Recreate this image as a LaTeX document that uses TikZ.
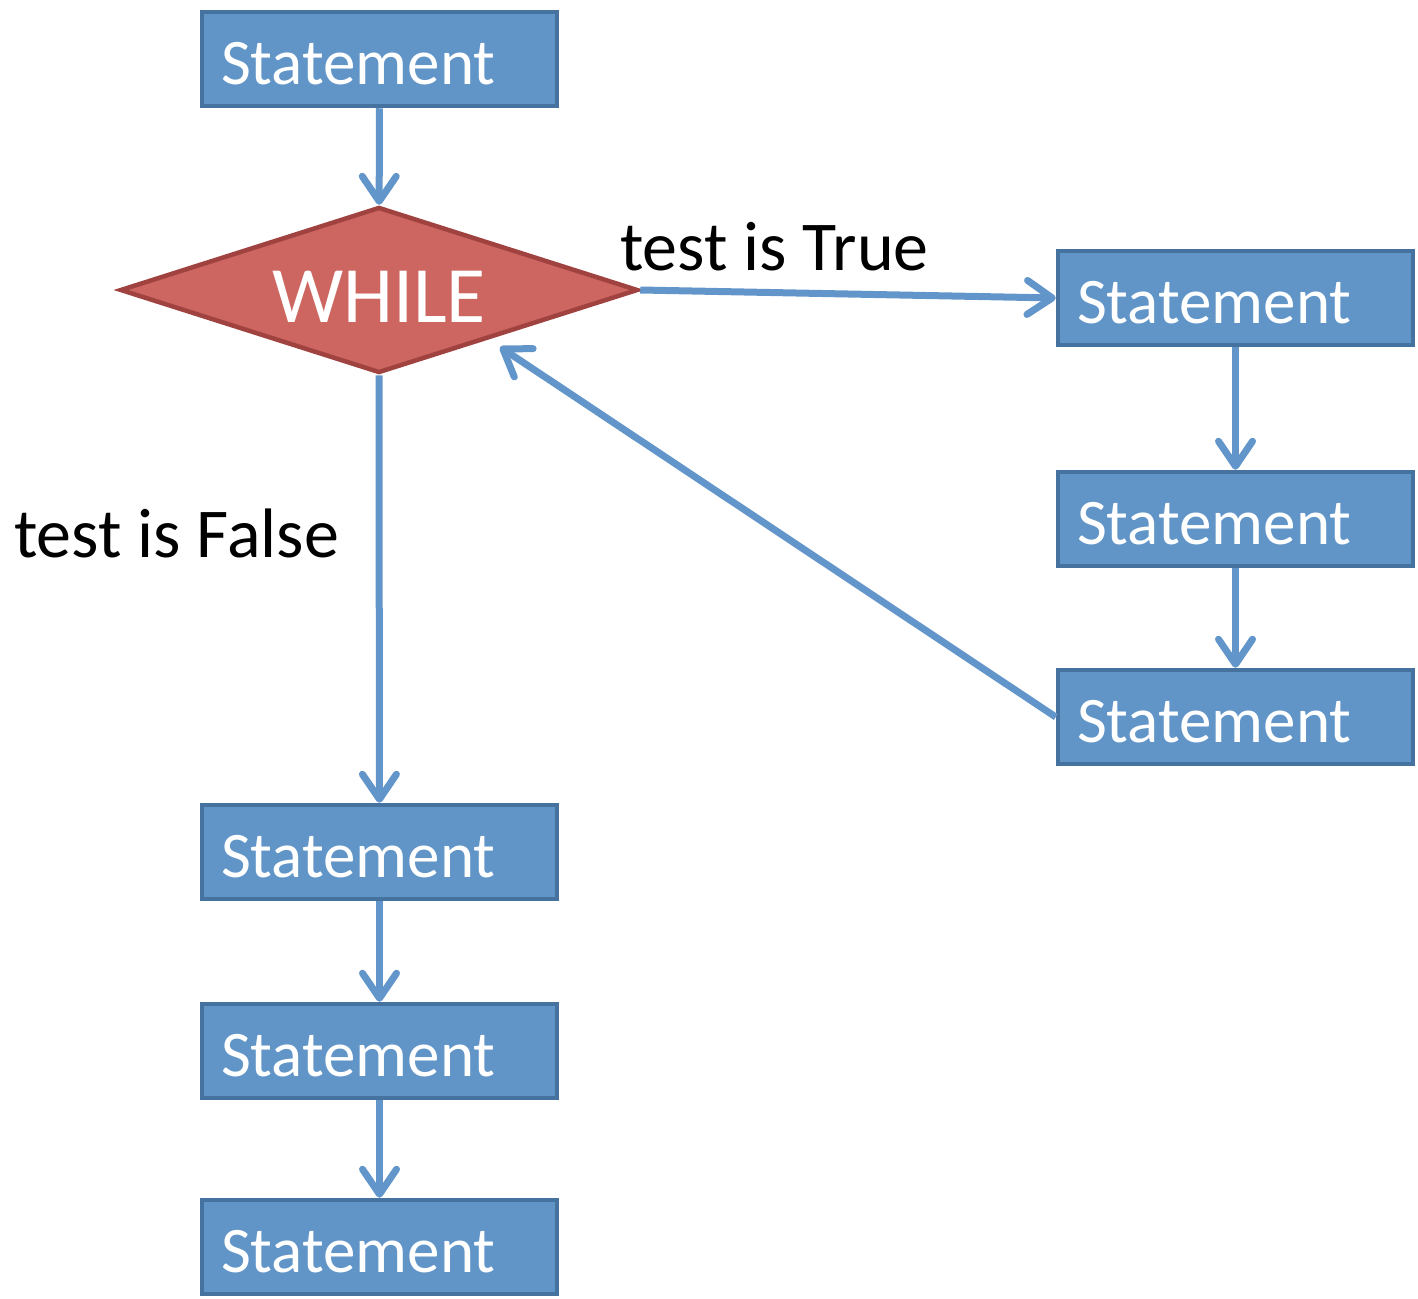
\documentclass[tikz,border=0pt]{standalone}
\usepackage{fontspec}
\setmainfont{Carlito}
\usetikzlibrary{shapes.geometric}
\usetikzlibrary{arrows.meta}
\usetikzlibrary{positioning}

\definecolor{boxfill}{RGB}{97,149,200}
\definecolor{boxline}{RGB}{70,114,160}
\definecolor{flowblue}{RGB}{98,150,202}
\definecolor{testfill}{RGB}{205,102,96}
\definecolor{testline}{RGB}{160,66,63}

\begin{document}
\begin{tikzpicture}[x=1pt,y=1pt,
  stmt/.style={draw=boxline,fill=boxfill,line width=4.5pt,rectangle,minimum height=94pt,text width=317pt,inner xsep=19pt,inner ysep=0pt,align=left,text=white,font=\fontsize{65}{65}\selectfont,text height=55pt,text depth=4pt},
  test/.style={diamond,aspect=3,draw=testline,fill=testfill,line width=4.5pt,minimum width=518pt,minimum height=166pt,inner sep=0pt,text=white,font=\fontsize{80}{80}\selectfont,text height=64pt,text depth=0pt},
  flow/.style={draw=flowblue,line width=7pt,-{Straight Barb[length=25pt,width=34pt,round]}},
  lbl/.style={inner sep=0pt,anchor=base west,font=\fontsize{70}{70}\selectfont}]
  \useasboundingbox (0,0) rectangle (1418,-1298);

  \node[stmt] (s0) at (379.5,-59) {Statement};
  \node[test] (loop) at (379,-290) {WHILE};

  \node[stmt] (t1) at (1235.5,-298) {Statement};
  \node[stmt,below of=t1,node distance=221pt] (t2) {Statement};
  \node[stmt,below of=t2,node distance=198pt] (t3) {Statement};

  \node[stmt] (f1) at (379.5,-852) {Statement};
  \node[stmt,below of=f1,node distance=199pt] (f2) {Statement};
  \node[stmt,below of=f2,node distance=196pt] (f3) {Statement};

  \node[lbl] (truelbl) at (620,-270) {test is True};
  \node[lbl] (falselbl) at (14,-557) {test is False};

  \coordinate (back) at (500,-347);

  \draw[flow](s0)--(loop);
  \draw[flow](loop.east)--(t1.west);
  \draw[flow](t1)--(t2);
  \draw[flow](t2)--(t3);
  \draw[flow](t3.west)--(back);
  \draw[flow](loop.south)--(f1);
  \draw[flow](f1)--(f2);
  \draw[flow](f2)--(f3);
\end{tikzpicture}
\end{document}
